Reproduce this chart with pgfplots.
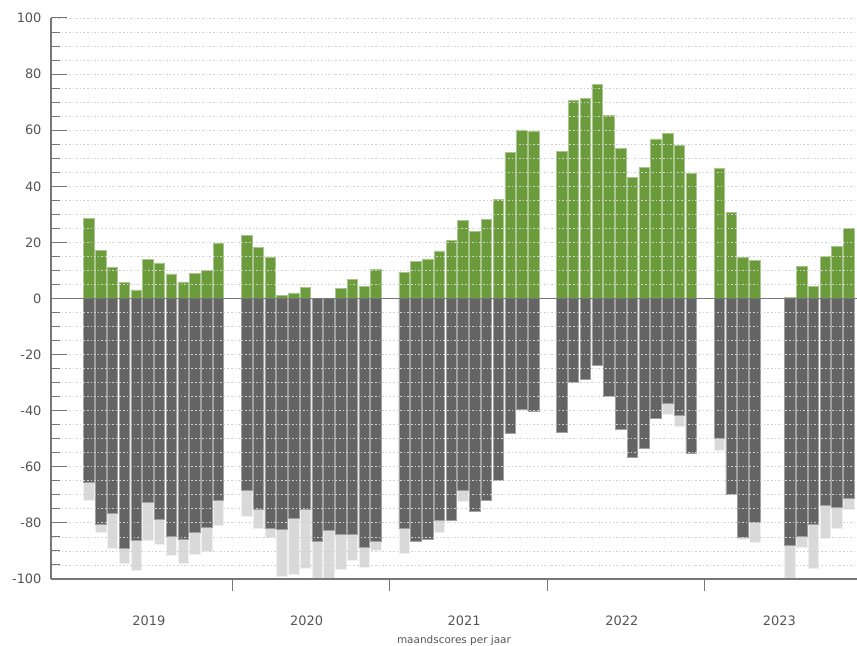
\documentclass[border=0pt]{standalone}
\usepackage{pgfplots}
\pgfplotsset{compat=1.18}
\usepackage{pgfplotstable}
\usepackage{fontspec}
\setmainfont{DejaVu Sans}

\definecolor{pos}{HTML}{6B9B3B}
\definecolor{posedge}{HTML}{A9C78C}
\definecolor{neg}{HTML}{646464}
\definecolor{negedge}{HTML}{A0A0A0}
\definecolor{neglight}{HTML}{D9D9D9}
\definecolor{lightedge}{HTML}{F0F0F0}
\definecolor{axisgray}{HTML}{777777}
\definecolor{txt}{HTML}{555555}

% x = 13.4*year + month (0..11); pos = positief, dark = negatief, light = totaal negatief
\pgfplotstableread{
x     pos   dark   light
0     28.5  -65.7  -71.8
1     17.1  -80.4  -83.2
2     11.0  -76.4  -89.2
3      5.8  -89.0  -94.4
4      3.1  -86.1  -97.0
5     14.0  -72.6  -86.2
6     12.7  -78.6  -87.5
7      8.8  -84.9  -91.5
8      5.9  -85.9  -94.3
9      9.0  -83.2  -91.1
10    10.1  -81.7  -90.0
11    19.5  -71.9  -80.8
13.4  22.5  -68.2  -77.6
14.4  18.1  -75.3  -82.0
15.4  14.8  -82.0  -85.2
16.4   1.2  -82.2  -98.9
17.4   2.0  -78.5  -98.2
18.4   3.9  -75.2  -96.3
19.4   0.0  -86.4 -100.0
20.4   0.0  -82.6  -99.8
21.4   3.6  -84.0  -96.6
22.4   6.8  -84.2  -93.5
23.4   4.4  -88.8  -96.0
24.4  10.3  -86.4  -89.8
26.8   9.3  -82.0  -90.7
27.8  13.2  -86.7  -86.7
28.8  14.1  -85.8  -85.8
29.8  17.0  -79.1  -83.2
30.8  20.8  -79.1  -79.1
31.8  27.9  -68.2  -72.2
32.8  24.0  -75.9  -75.9
33.8  28.1  -71.8  -71.8
34.8  35.2  -64.8  -64.8
35.8  52.0  -48.0  -48.0
36.8  60.1  -39.6  -39.6
37.8  59.7  -40.2  -40.2
40.2  52.3  -47.8  -47.8
41.2  70.6  -29.7  -29.7
42.2  71.2  -28.9  -28.9
43.2  76.3  -23.8  -23.8
44.2  65.2  -34.9  -34.9
45.2  53.4  -46.7  -46.7
46.2  43.3  -56.7  -56.7
47.2  46.6  -53.4  -53.4
48.2  56.9  -42.6  -42.6
49.2  59.0  -37.2  -41.2
50.2  54.6  -41.5  -45.4
51.2  44.6  -55.3  -55.3
53.6  46.3  -49.7  -54.2
54.6  30.6  -69.8  -69.8
55.6  14.7  -85.1  -85.8
56.6  13.5  -79.8  -87.0
59.6   0.5  -88.1 -100.0
60.6  11.5  -84.8  -88.7
61.6   4.3  -80.4  -96.2
62.6  14.9  -73.7  -85.5
63.6  18.5  -74.6  -81.9
64.6  24.9  -71.4  -75.3
}\scores

\begin{document}
\begin{tikzpicture}
\path[use as bounding box] (0,0) rectangle (857bp,646bp);
\begin{axis}[
    at={(51bp,67bp)}, anchor=south west,
    scale only axis,
    width=806bp, height=561bp,
    xmin=-3.23, xmax=65.3,
    ymin=-100, ymax=100,
    axis x line*=bottom, axis y line*=left,
    axis line style={axisgray, line width=1.1bp},
    axis on top,
    tick align=inside,
    major tick length=16bp, minor tick length=9bp,
    ytick={-100,-80,...,100},
    minor y tick num=3,
    ymajorgrids, yminorgrids,
    major grid style={color=black!18, dash pattern=on 1.6bp off 2bp, line width=0.8bp},
    minor grid style={color=black!18, dash pattern=on 1.6bp off 2bp, line width=0.8bp},
    ytick style={axisgray, line width=1bp},
    yticklabel style={font=\fontsize{13}{15}\selectfont, text=txt, xshift=-6bp},
    /pgf/number format/assume math mode=true,
    xtick={5.1,18.5,31.9,45.3,58.7},
    xticklabels={2019,2020,2021,2022,2023},
    xtick style={draw=none},
    xticklabel style={font=\fontsize{13}{15}\selectfont, text=txt, yshift=-17bp},
    extra x ticks={12.16,25.56,38.96,52.36},
    extra x tick labels={},
    extra x tick style={tick align=outside, major tick length=12bp,
        xtick style={draw=axisgray, line width=1bp}},
    extra y ticks={0},
    extra y tick labels={},
    extra y tick style={major grid style={solid, color=axisgray, line width=1.1bp}},
    xlabel={maandscores per jaar},
    every axis x label/.style={at={(axis description cs:0.5,0)}, anchor=center,
        yshift=-62bp, font=\fontsize{10.5}{12}\selectfont, text=txt},
    ybar, bar width=0.89,
]
\addplot[bar shift=0pt, fill=neglight, draw=lightedge, line width=0.6bp] table[x=x, y=light] {\scores};
\addplot[bar shift=0pt, fill=neg, draw=negedge, line width=0.6bp] table[x=x, y=dark] {\scores};
\addplot[bar shift=0pt, fill=pos, draw=posedge, line width=0.6bp] table[x=x, y=pos] {\scores};
\end{axis}
\end{tikzpicture}
\end{document}
